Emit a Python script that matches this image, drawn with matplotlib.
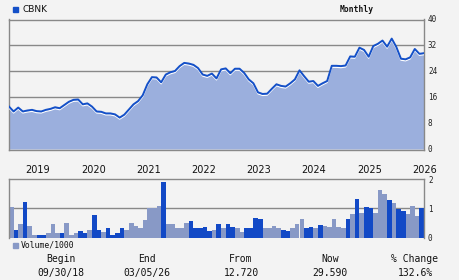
import matplotlib
matplotlib.use("Agg")
import matplotlib.pyplot as plt
import matplotlib.transforms as mtransforms
from matplotlib.patches import Rectangle

# ---- data ----
ticker = "CBNK"
period_label = "Monthly"
price = [13.1, 11.6, 12.8, 11.6, 11.9, 12.1, 11.7, 11.6, 12.1, 12.4,
         12.9, 12.6, 13.6, 14.6, 15.2, 15.3, 13.8, 14.1, 13.1, 11.6,
         11.5, 11.0, 11.0, 10.7, 9.7, 10.6, 12.2, 13.8, 14.8, 16.6,
         20.0, 22.2, 22.1, 20.6, 23.0, 23.7, 24.1, 25.6, 26.6, 26.4,
         26.0, 25.0, 23.0, 22.6, 23.3, 21.8, 24.6, 24.9, 23.4, 24.8,
         24.8, 23.5, 21.5, 20.3, 17.5, 17.0, 17.1, 18.6, 20.0, 19.5,
         19.3, 20.3, 21.5, 24.3, 22.5, 20.8, 21.0, 19.5, 20.3, 21.0,
         25.7, 25.7, 25.6, 25.8, 28.6, 28.5, 31.3, 30.6, 28.5, 31.8,
         32.5, 33.5, 31.6, 34.1, 31.5, 27.9, 27.7, 28.3, 30.9, 29.4,
         29.6]
volume = [1.06, 0.27, 0.48, 1.23, 0.41, 0.10, 0.10, 0.07, 0.17, 0.48,
          0.14, 0.14, 0.51, 0.10, 0.17, 0.24, 0.17, 0.27, 0.78, 0.27,
          0.20, 0.31, 0.10, 0.17, 0.34, 0.27, 0.51, 0.41, 0.34, 0.61,
          1.02, 1.02, 1.09, 1.91, 0.48, 0.48, 0.34, 0.34, 0.51, 0.58,
          0.31, 0.31, 0.375, 0.24, 0.27, 0.48, 0.34, 0.48, 0.375, 0.31,
          0.20, 0.31, 0.31, 0.68, 0.65, 0.31, 0.34, 0.41, 0.31, 0.27,
          0.24, 0.34, 0.48, 0.65, 0.34, 0.375, 0.34, 0.44, 0.41, 0.375,
          0.65, 0.375, 0.34, 0.65, 0.82, 1.33, 0.85, 1.06, 1.02, 0.85,
          1.64, 1.50, 1.30, 1.19, 0.99, 0.92, 0.82, 1.09, 0.75, 1.02]
# D = dark (up) bar, L = light bar
vol_kind = "".join([
    "LDLDLLDDLL", "LDLLLDDLDD", "LDDDDLLLLL", "LLLDLLLLLD", "DDDDLDLDDL",
    "LDDDDLLLLD", "DLLLDDLDLL", "LLLDLDLDDL", "LLDLDDLLLD",
])
year_labels = ["2019", "2020", "2021", "2022", "2023", "2024", "2025", "2026"]
price_ticks = [0, 8, 16, 24, 32, 40]
vol_ticks = [0, 1, 2]
footer_heads = ["Begin", "End", "From", "Now", "% Change"]
footer_vals = ["09/30/18", "03/05/26", "12.720", "29.590", "132.6%"]

# ---- style ----
BG = "#f3f3f3"
FILL = "#9bafdd"
LINE = "#1450c8"
DARK = "#1249c6"
LIGHT = "#8899c6"
GRID = "#888888"
W, H = 460, 280

fig = plt.figure(figsize=(4.6, 2.8), dpi=100, facecolor=BG)

def fx(px):
    return px / W

def fy(py):
    return 1 - py / H

# price axes
ax = fig.add_axes([fx(9), fy(149.5), fx(424 - 9), (149.5 - 19.5) / H])
ax.set_facecolor(BG)
n = len(price)
xs = list(range(n))
ax.set_xlim(0, n - 1)
ax.set_ylim(-0.15, 40)
ax.fill_between(xs, price, 0, color=FILL, lw=0, zorder=2)
off = mtransforms.offset_copy(ax.transData, fig=fig, x=0, y=-1.5, units="dots")
ax.plot(xs, price, color="white", lw=0.9, transform=off, zorder=3)
ax.plot(xs, price, color=LINE, lw=1.4, zorder=4)
for v in price_ticks[1:-1]:
    ax.axhline(v, color=GRID, lw=1.0, zorder=1)
for s in ax.spines.values():
    s.set_color(GRID)
    s.set_linewidth(1.0)
ax.set_xticks([])
ax.set_yticks([])
for v in price_ticks:
    fig.text(fx(428), fy(149 - v * 3.25), str(v), ha="left", va="center",
             fontsize=5.5, family="DejaVu Sans Mono", color="#222222")
for k, lab in enumerate(year_labels):
    xp = 9 + (6.3 + 11.97 * k) * (415 / 90)
    fig.text(fx(xp), fy(170), lab, ha="center", va="center", fontsize=7,
             family="DejaVu Sans", color="#111111")

# header
fig.patches.append(Rectangle((fx(13), fy(11.7)), fx(4.6), 4.4 / H,
                             transform=fig.transFigure, color=LINE))
fig.text(fx(22.5), fy(9.5), ticker, ha="left", va="center", fontsize=6.5,
         family="DejaVu Sans", color="#111111")
fig.text(fx(340), fy(9), period_label, ha="left", va="center", fontsize=5.8,
         family="DejaVu Sans Mono", color="#111111", weight="bold")

# volume axes
vx = fig.add_axes([fx(9), fy(237.5), fx(415), (237.5 - 179.3) / H])
vx.set_facecolor(BG)
vx.set_xlim(0, len(volume))
vx.set_ylim(0, 2)
colors = [DARK if k == "D" else LIGHT for k in vol_kind]
vx.bar([i + 0.5 for i in range(len(volume))], volume, width=1.0,
       color=colors, lw=0, zorder=2)
vx.axhline(1, color=GRID, lw=1.0, zorder=1)
for name, s in vx.spines.items():
    s.set_color(GRID)
    s.set_linewidth(1.0)
vx.spines["bottom"].set_visible(False)
vx.set_xticks([])
vx.set_yticks([])
for v in vol_ticks:
    fig.text(fx(428), fy(238.5 - v * 29.2), str(v), ha="left", va="center",
             fontsize=5.5, family="DejaVu Sans Mono", color="#222222")

fig.patches.append(Rectangle((fx(13), fy(247.7)), fx(4.6), 4.6 / H,
                             transform=fig.transFigure, color=LIGHT))
fig.text(fx(20.5), fy(245), "Volume/1000", ha="left", va="center",
         fontsize=5.9, family="DejaVu Sans Mono", color="#111111")

# footer
centers = [61, 147, 241, 330, 415]
for c, h, v in zip(centers, footer_heads, footer_vals):
    fig.text(fx(c), fy(259), h, ha="center", va="center", fontsize=7,
             family="DejaVu Sans Mono", color="#111111")
    fig.text(fx(c), fy(273), v, ha="center", va="center", fontsize=7,
             family="DejaVu Sans Mono", color="#111111")

fig.savefig("out.png", dpi=100, facecolor=BG)
